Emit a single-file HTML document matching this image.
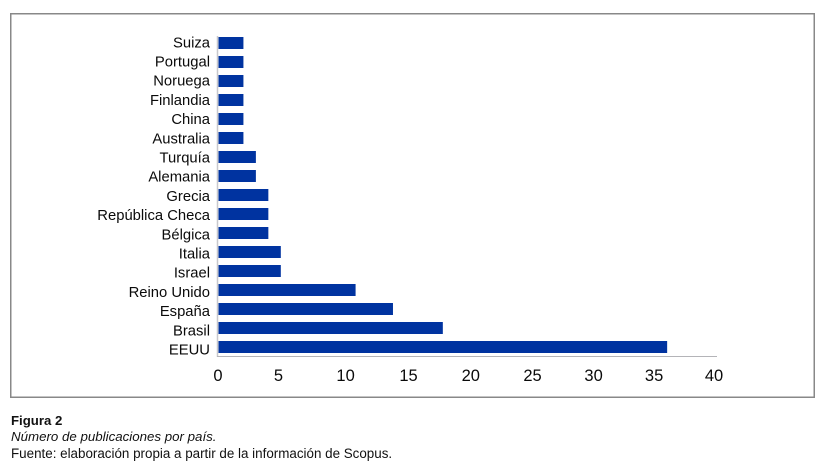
<!DOCTYPE html>
<html lang="es">
<head>
<meta charset="utf-8">
<title>Figura 2</title>
<style>
html,body{margin:0;padding:0;background:#fff;width:826px;height:467px;overflow:hidden}
svg{display:block;position:absolute;left:0;top:0}
text{font-family:"Liberation Sans",sans-serif;fill:#0a0a0a}
.cap{position:absolute;left:11px;font-family:"Liberation Sans",sans-serif;font-size:13px;line-height:16px;color:#111;white-space:nowrap}
</style>
</head>
<body>
<svg id="chart" width="826" height="467" viewBox="0 0 826 467" xmlns="http://www.w3.org/2000/svg">
<rect x="10.75" y="13.75" width="803.5" height="383.5" fill="#fff" stroke="#888" stroke-width="1.5"/>
</svg>
<div class="cap" style="top:412.5px;font-weight:bold;font-size:13.2px">Figura 2</div>
<div class="cap" style="top:429px;font-style:italic;font-size:13.3px">Número de publicaciones por país.</div>
<div class="cap" style="top:446px;font-size:13.4px">Fuente: elaboración propia a partir de la información de Scopus.</div>
<script>
const countries = ["Suiza","Portugal","Noruega","Finlandia","China","Australia","Turquía","Alemania","Grecia","República Checa","Bélgica","Italia","Israel","Reino Unido","España","Brasil","EEUU"];
const publications = [2,2,2,2,2,2,3,3,4,4,4,5,5,11,14,18,36];
const xTicks = [0,5,10,15,20,25,30,35,40];

const svg = document.getElementById('chart');
const NS = 'http://www.w3.org/2000/svg';
const x0 = 218.5, xMax = 717, domainMax = 40;
const firstTop = 37, step = 19, barH = 12;
const labelBaseline = 47.3, labelStep = 19.2;
const xScale = v => x0 + (v / domainMax) * (xMax - x0);
const yScale = i => firstTop + i * step;
// Reference tick labels sit slightly off a uniform spacing; bow the label scale to follow them.
const tickPos = v => {
  const t = v / domainMax;
  return 218 + t * 496 + (v === 0 || v === domainMax ? 0 : v < 10 ? -1.5 : 16 * t * (1 - t) * 1.2);
};

function make(tag, attrs) {
  const el = document.createElementNS(NS, tag);
  for (const k in attrs) el.setAttribute(k, attrs[k]);
  svg.appendChild(el);
  return el;
}

const yAxis = make('line', {x1: 217.5, x2: 217.5, y1: 36, y2: 357, stroke: '#c8c8cc', 'stroke-width': 1.5});


const xAxis = make('line', {x1: 217, x2: xMax, y1: 356.5, y2: 356.5, stroke: '#b4b4b8', 'stroke-width': 1});



countries.forEach((name, i) => {
  const bar = make('rect', {x: x0, y: yScale(i), width: xScale(publications[i]) - x0, height: barH, fill: '#0033a0'});
  
  
  const label = make('text', {x: 210, y: labelBaseline + i * labelStep, 'text-anchor': 'end', 'font-size': 14.8});
  label.textContent = name;
  
  
});

xTicks.forEach(t => {
  const tick = make('text', {x: tickPos(t), y: 381, 'text-anchor': 'middle', 'font-size': 16.5});
  tick.textContent = t;
  
  
});
</script>
</body>
</html>
